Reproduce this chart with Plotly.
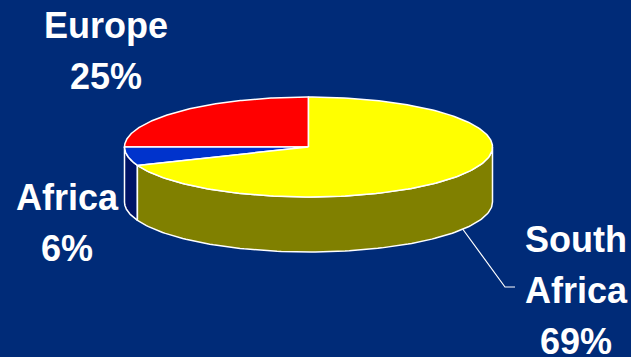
import numpy as np
import plotly.graph_objects as go

# Share of total by region (percent)
regions = ["Europe", "Africa", "South Africa"]
shares = [25, 6, 69]

top_colors = ["#FF0000", "#0033CC", "#FFFF00"]
side_colors = ["#8B0000", "#001466", "#808000"]

# Label anchor for each region (centre x, first baseline y), pixel space
label_pos = [(106, 38), (67, 210), (576, 252)]
LINE_GAP = 51
FONT_SIZE = 36

BG = "#002B78"
W, H = 631, 357
CX, CY = 308.5, 147.0      # centre of the top face
RX, RY = 184.0, 50.0       # ellipse radii of the top face
DEPTH = 55.0               # thickness of the disc
START = 90.0               # first slice starts at 12 o'clock, runs counter-clockwise


def ellipse(t_deg, dy=0.0):
    t = np.radians(t_deg)
    return CX + RX * np.cos(t), CY - RY * np.sin(t) + dy


fig = go.Figure()

# slice angle ranges
bounds = START + np.concatenate([[0], np.cumsum(shares)]) * 3.6
ranges = list(zip(bounds[:-1], bounds[1:]))

# front wall: only the part of the rim that faces the viewer (180..360 deg)
for (a0, a1), col in zip(ranges, side_colors):
    for off in (0, 360):
        s0, s1 = max(a0, 180 + off), min(a1, 360 + off)
        if s1 <= s0:
            continue
        t = np.linspace(s0, s1, 120)
        xt, yt = ellipse(t)
        xb, yb = ellipse(t[::-1], DEPTH)
        xs = np.concatenate([xt, xb, xt[:1]])
        ys = np.concatenate([yt, yb, yt[:1]])
        fig.add_trace(go.Scatter(x=xs, y=ys, mode="lines", fill="toself",
                                 fillcolor=col, line=dict(color="white", width=1.5),
                                 hoverinfo="skip", showlegend=False))

# top faces
for (a0, a1), col, name in zip(ranges, top_colors, regions):
    t = np.linspace(a0, a1, 200)
    xa, ya = ellipse(t)
    xs = np.concatenate([[CX], xa, [CX]])
    ys = np.concatenate([[CY], ya, [CY]])
    fig.add_trace(go.Scatter(x=xs, y=ys, mode="lines", fill="toself",
                             fillcolor=col, line=dict(color="white", width=1.5),
                             name=name, hoverinfo="name", showlegend=False))

# leader line from the rim of the largest slice to its label
lx, ly = ellipse(-33, DEPTH)
fig.add_trace(go.Scatter(x=[lx, 505, 515], y=[ly, 287, 287], mode="lines",
                         line=dict(color="white", width=1.2),
                         hoverinfo="skip", showlegend=False))

# labels: one annotation per text line
annotations = []
for name, val, (x0, y0) in zip(regions, shares, label_pos):
    lines = name.split(" ") + [f"{val}%"]
    for i, txt in enumerate(lines):
        base = y0 + i * LINE_GAP
        annotations.append(dict(
            x=x0, y=base - 0.35 * FONT_SIZE, text=f"<b>{txt}</b>",
            showarrow=False, xanchor="center", yanchor="middle",
            font=dict(family="Liberation Sans, Arial, sans-serif",
                      size=FONT_SIZE, color="white")))

fig.update_layout(
    width=W, height=H,
    margin=dict(l=0, r=0, t=0, b=0),
    paper_bgcolor=BG, plot_bgcolor=BG,
    xaxis=dict(range=[0, W], visible=False, fixedrange=True),
    yaxis=dict(range=[H, 0], visible=False, fixedrange=True),
    annotations=annotations,
)

fig.write_html("out.html")
